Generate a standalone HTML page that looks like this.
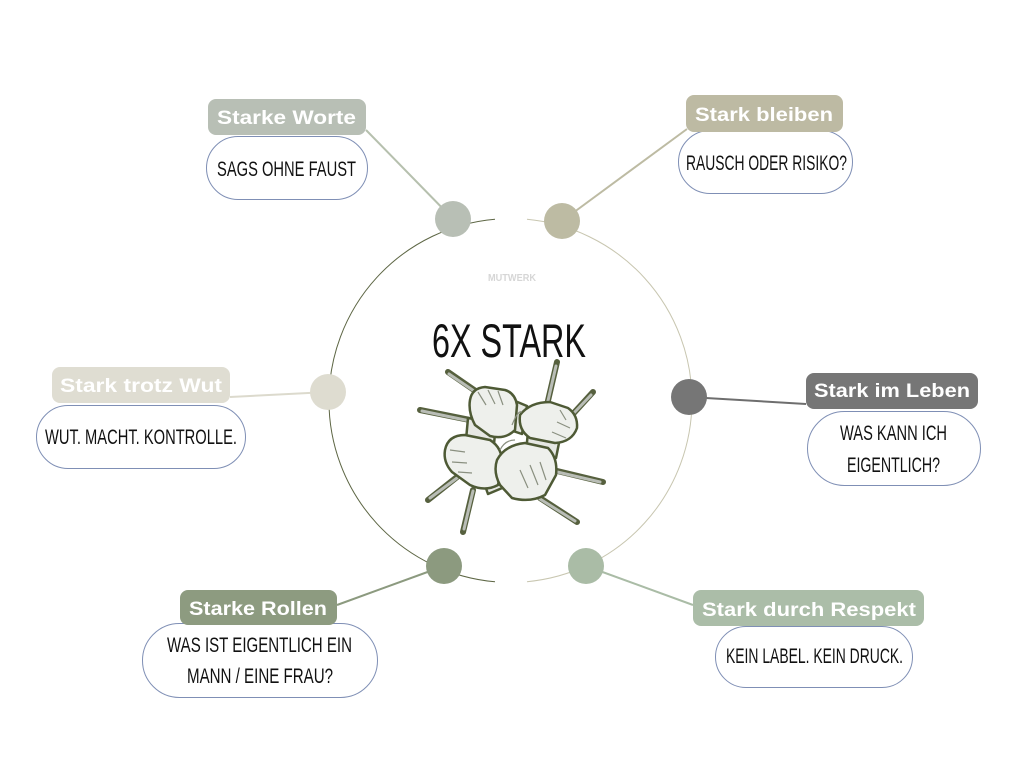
<!DOCTYPE html>
<html><head><meta charset="utf-8"><style>
html,body{margin:0;padding:0;background:#fff;}
svg{display:block;}
.lb{font-family:"Liberation Sans",sans-serif;font-weight:bold;font-size:19px;fill:#fff;}
.hw{font-family:"Liberation Sans",sans-serif;font-size:21px;fill:#111;}
</style></head><body>
<svg width="1024" height="768" viewBox="0 0 1024 768" xmlns="http://www.w3.org/2000/svg">
<rect width="1024" height="768" fill="#fff"/>
<!-- connectors -->
<line x1="366" y1="130" x2="453" y2="219" stroke="#b6c0ae" stroke-width="2"/>
<line x1="687" y1="129" x2="562" y2="221" stroke="#bdbba3" stroke-width="2"/>
<line x1="230" y1="397" x2="328" y2="392" stroke="#dcdacd" stroke-width="2"/>
<line x1="689" y1="397" x2="806" y2="404" stroke="#6e6e6e" stroke-width="2"/>
<line x1="337" y1="605" x2="444" y2="566" stroke="#8c9a7f" stroke-width="2"/>
<line x1="586" y1="566" x2="693" y2="605" stroke="#aabca6" stroke-width="2"/>
<!-- main circle arcs -->
<path d="M495,219.2 A182,182 0 0 0 495,581.8" fill="none" stroke="#5d6644" stroke-width="1"/>
<path d="M527,219.3 A182,182 0 0 1 527,581.7" fill="none" stroke="#c8c6b0" stroke-width="1"/>
<!-- nodes -->
<circle cx="453" cy="219" r="18" fill="#b8bfb5"/>
<circle cx="562" cy="221" r="18" fill="#bdbba3"/>
<circle cx="328" cy="392" r="18" fill="#dedcd0"/>
<circle cx="689" cy="397" r="18" fill="#767676"/>
<circle cx="444" cy="566" r="18" fill="#8c9a7f"/>
<circle cx="586" cy="566" r="18" fill="#aabca6"/>
<!-- center text -->
<text x="512" y="281" text-anchor="middle" font-family="Liberation Sans, sans-serif" font-weight="bold" font-size="10" fill="#d6d6d6" textLength="48" lengthAdjust="spacingAndGlyphs">MUTWERK</text>
<text x="432" y="357" font-family="Liberation Sans, sans-serif" font-size="47" fill="#111" textLength="154" lengthAdjust="spacingAndGlyphs">6X STARK</text>
<!-- hands illustration -->
<g stroke-linecap="round">
<g stroke="#56603e" stroke-width="6">
<line x1="448" y1="372" x2="477" y2="392"/>
<line x1="420" y1="410" x2="470" y2="420"/>
<line x1="557" y1="362" x2="547" y2="405"/>
<line x1="593" y1="392" x2="572" y2="415"/>
<line x1="603" y1="482" x2="553" y2="470"/>
<line x1="577" y1="522" x2="540" y2="498"/>
<line x1="428" y1="500" x2="457" y2="477"/>
<line x1="463" y1="532" x2="473" y2="490"/>
</g>
<g stroke="#b9bdb6" stroke-width="3">
<line x1="449" y1="374" x2="477" y2="393"/>
<line x1="422" y1="411" x2="470" y2="421"/>
<line x1="556" y1="366" x2="547" y2="405"/>
<line x1="591" y1="395" x2="572" y2="415"/>
<line x1="600" y1="482" x2="553" y2="471"/>
<line x1="575" y1="521" x2="540" y2="499"/>
<line x1="430" y1="498" x2="457" y2="478"/>
<line x1="464" y1="529" x2="473" y2="491"/>
</g>
</g>
<g fill="#e6e8e3" stroke="#4e5a35" stroke-width="2.5" stroke-linejoin="round">
<path d="M503,396 L527,406 L522,434 L498,426 Z"/>
<path d="M528,432 L560,438 L556,458 L526,452 Z"/>
<path d="M493,458 L507,486 L488,494 L478,466 Z"/>
<path d="M468,418 L496,423 L494,444 L466,440 Z"/>
</g>
<g fill="#eef0ec" stroke="#4e5a35" stroke-width="2.5" stroke-linejoin="round">
<path d="M470,400 Q472,388 485,387 L505,390 Q515,393 517,405 L515,430 Q505,440 490,436 L475,425 Q468,412 470,400 Z"/>
<path d="M520,415 Q530,402 550,402 L568,408 Q578,415 577,428 Q572,442 555,443 L530,438 Q518,430 520,415 Z"/>
<path d="M445,450 Q448,435 465,435 L490,440 Q503,448 502,465 L498,485 Q485,492 470,485 L452,472 Q443,462 445,450 Z"/>
<path d="M497,460 Q505,445 525,443 L548,448 Q558,458 556,475 L545,495 Q530,503 512,498 L500,485 Q493,472 497,460 Z"/>
</g>
<g fill="none" stroke="#8a9080" stroke-width="1.2">
<path d="M478,392 L486,405 M488,390 L495,404 M498,391 L503,405"/>
<path d="M560,410 L566,420 M557,422 L570,428 M552,432 L566,438"/>
<path d="M450,450 L465,452 M452,462 L467,463 M458,472 L472,473"/>
<path d="M520,470 L528,488 M530,465 L538,485 M540,462 L546,480"/>
<path d="M512,425 Q518,410 522,412 M500,450 Q505,440 515,440"/>
</g>
<!-- Starke Worte -->
<rect x="206.5" y="136.5" width="161" height="63" rx="31.5" fill="#fff" stroke="#7f8fb5" stroke-width="1"/>
<rect x="208" y="99" width="158" height="36" rx="8" fill="#b8bfb5"/>
<text class="lb" x="217" y="124" textLength="139" lengthAdjust="spacingAndGlyphs">Starke Worte</text>
<text class="hw" x="217" y="176" textLength="139" lengthAdjust="spacingAndGlyphs">SAGS OHNE FAUST</text>
<!-- Stark bleiben -->
<rect x="678.5" y="130.5" width="174" height="63" rx="31.5" fill="#fff" stroke="#7f8fb5" stroke-width="1"/>
<rect x="686" y="95" width="157" height="37" rx="8" fill="#bdbaa3"/>
<text class="lb" x="695" y="121" textLength="138" lengthAdjust="spacingAndGlyphs">Stark bleiben</text>
<text class="hw" x="686" y="170" textLength="161" lengthAdjust="spacingAndGlyphs">RAUSCH ODER RISIKO?</text>
<!-- Stark trotz Wut -->
<rect x="36.5" y="405.5" width="209" height="63" rx="31.5" fill="#fff" stroke="#7f8fb5" stroke-width="1"/>
<rect x="52" y="367" width="178" height="36" rx="8" fill="#dfddd2"/>
<text class="lb" x="60" y="392" textLength="162" lengthAdjust="spacingAndGlyphs">Stark trotz Wut</text>
<text class="hw" x="45" y="444" textLength="192" lengthAdjust="spacingAndGlyphs">WUT. MACHT. KONTROLLE.</text>
<!-- Stark im Leben -->
<rect x="807.5" y="411.5" width="173" height="74" rx="37" fill="#fff" stroke="#7f8fb5" stroke-width="1"/>
<rect x="806" y="373" width="172" height="36" rx="8" fill="#767676"/>
<text class="lb" x="814" y="397" textLength="156" lengthAdjust="spacingAndGlyphs">Stark im Leben</text>
<text class="hw" x="840" y="440" textLength="107" lengthAdjust="spacingAndGlyphs">WAS KANN ICH</text>
<text class="hw" x="847" y="472" textLength="93" lengthAdjust="spacingAndGlyphs">EIGENTLICH?</text>
<!-- Starke Rollen -->
<rect x="142.5" y="623.5" width="235" height="74" rx="37" fill="#fff" stroke="#7f8fb5" stroke-width="1"/>
<rect x="180" y="590" width="157" height="35" rx="8" fill="#8d9b80"/>
<text class="lb" x="189" y="615" textLength="138" lengthAdjust="spacingAndGlyphs">Starke Rollen</text>
<text class="hw" x="167" y="652" textLength="185" lengthAdjust="spacingAndGlyphs">WAS IST EIGENTLICH EIN</text>
<text class="hw" x="187" y="683" textLength="146" lengthAdjust="spacingAndGlyphs">MANN / EINE FRAU?</text>
<!-- Stark durch Respekt -->
<rect x="715.5" y="626.5" width="197" height="61" rx="30.5" fill="#fff" stroke="#7f8fb5" stroke-width="1"/>
<rect x="693" y="590" width="231" height="36" rx="8" fill="#abbda8"/>
<text class="lb" x="702" y="616" textLength="214" lengthAdjust="spacingAndGlyphs">Stark durch Respekt</text>
<text class="hw" x="726" y="663" textLength="177" lengthAdjust="spacingAndGlyphs">KEIN LABEL. KEIN DRUCK.</text>
</svg>
</body></html>
